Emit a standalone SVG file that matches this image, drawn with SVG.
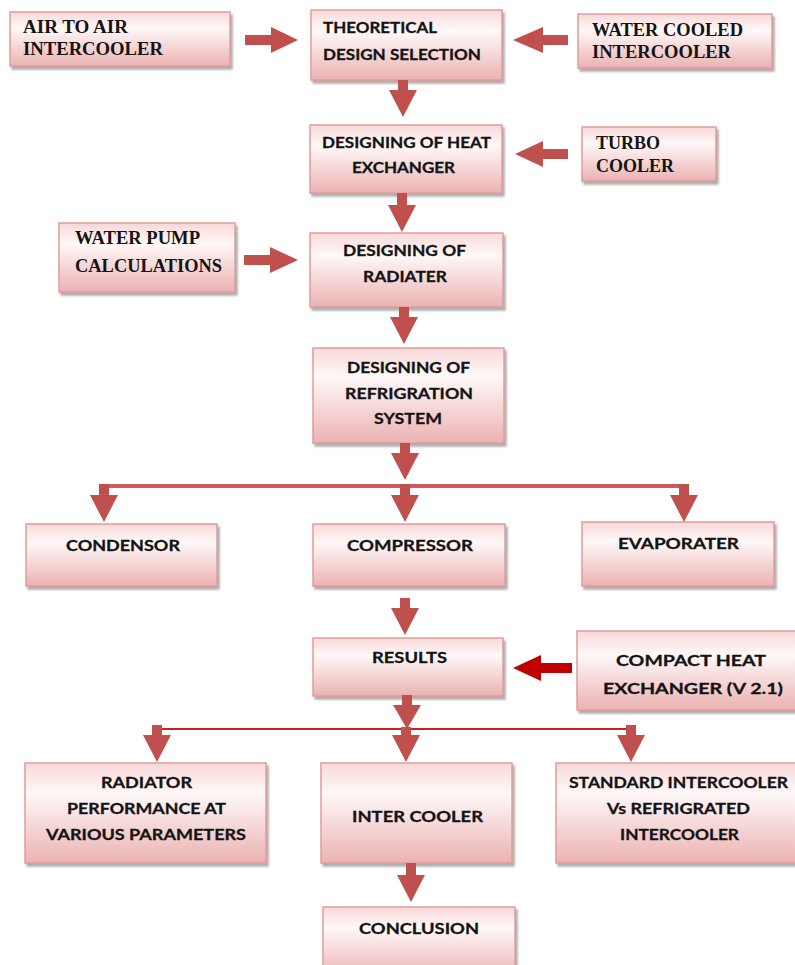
<svg xmlns="http://www.w3.org/2000/svg" width="795" height="965" viewBox="0 0 795 965">
<defs>
<linearGradient id="g" x1="0" y1="0" x2="0" y2="1">
<stop offset="0" stop-color="#F8D8D8"/>
<stop offset="0.3" stop-color="#FFF8F8"/>
<stop offset="1" stop-color="#EBB2B2"/>
</linearGradient>
<filter id="sh" x="-5%" y="-5%" width="115%" height="125%">
<feDropShadow dx="2" dy="3" stdDeviation="1" flood-color="#8a8a8a" flood-opacity="0.7"/>
</filter>
<style>
.b{fill:url(#g);stroke:#E29C9C;stroke-width:1.5;filter:url(#sh)}
.s{font-family:"Liberation Serif","Times New Roman",serif;font-weight:bold;font-size:18px;fill:#141414}
.t{font-family:Lato,"Open Sans",sans-serif;font-weight:bold;font-size:16px;fill:#141414;stroke:#141414;stroke-width:0.3}
.a{fill:#C0504D}
.a2{fill:#C00000}
</style>
</defs>
<rect width="795" height="965" fill="#fff"/>

<g id="air">
<rect class="b" x="10" y="12" width="220" height="54"/>
<text class="s" x="23" y="33" textLength="105" lengthAdjust="spacingAndGlyphs">AIR TO AIR</text>
<text class="s" x="23" y="55" textLength="140" lengthAdjust="spacingAndGlyphs">INTERCOOLER</text>
</g>
<g id="theoretical">
<rect class="b" x="311" y="10" width="191" height="70"/>
<text class="t" x="323" y="33" textLength="114" lengthAdjust="spacingAndGlyphs">THEORETICAL</text>
<text class="t" x="323" y="60" textLength="158" lengthAdjust="spacingAndGlyphs">DESIGN SELECTION</text>
</g>
<g id="water">
<rect class="b" x="578" y="14" width="194" height="54"/>
<text class="s" x="592" y="36" textLength="151" lengthAdjust="spacingAndGlyphs">WATER COOLED</text>
<text class="s" x="592" y="58" textLength="139" lengthAdjust="spacingAndGlyphs">INTERCOOLER</text>
</g>
<g id="heatex">
<rect class="b" x="310" y="125" width="192" height="68"/>
<text class="t" x="322" y="148" textLength="169" lengthAdjust="spacingAndGlyphs">DESIGNING OF HEAT</text>
<text class="t" x="352" y="173" textLength="103" lengthAdjust="spacingAndGlyphs">EXCHANGER</text>
</g>
<g id="turbo">
<rect class="b" x="582" y="127" width="134" height="54"/>
<text class="s" x="596" y="149" textLength="64" lengthAdjust="spacingAndGlyphs">TURBO</text>
<text class="s" x="596" y="172" textLength="78" lengthAdjust="spacingAndGlyphs">COOLER</text>
</g>
<g id="pump">
<rect class="b" x="59" y="223" width="176" height="69"/>
<text class="s" x="75" y="244" textLength="125" lengthAdjust="spacingAndGlyphs">WATER PUMP</text>
<text class="s" x="75" y="272" textLength="147" lengthAdjust="spacingAndGlyphs">CALCULATIONS</text>
</g>
<g id="radiater">
<rect class="b" x="310" y="233" width="193" height="74"/>
<text class="t" x="343" y="256" textLength="123" lengthAdjust="spacingAndGlyphs">DESIGNING OF</text>
<text class="t" x="363" y="282" textLength="84" lengthAdjust="spacingAndGlyphs">RADIATER</text>
</g>
<g id="refrig">
<rect class="b" x="313" y="348" width="191" height="95"/>
<text class="t" x="347" y="373" textLength="123" lengthAdjust="spacingAndGlyphs">DESIGNING OF</text>
<text class="t" x="345" y="399" textLength="128" lengthAdjust="spacingAndGlyphs">REFRIGRATION</text>
<text class="t" x="374" y="424" textLength="68" lengthAdjust="spacingAndGlyphs">SYSTEM</text>
</g>
<g id="condensor">
<rect class="b" x="26" y="524" width="191" height="62"/>
<text class="t" x="66" y="551" textLength="114" lengthAdjust="spacingAndGlyphs">CONDENSOR</text>
</g>
<g id="compressor">
<rect class="b" x="313" y="524" width="192" height="62"/>
<text class="t" x="347" y="551" textLength="126" lengthAdjust="spacingAndGlyphs">COMPRESSOR</text>
</g>
<g id="evaporater">
<rect class="b" x="582" y="522" width="192" height="64"/>
<text class="t" x="618" y="549" textLength="121" lengthAdjust="spacingAndGlyphs">EVAPORATER</text>
</g>
<g id="results">
<rect class="b" x="313" y="638" width="190" height="58"/>
<text class="t" x="372" y="663" textLength="75" lengthAdjust="spacingAndGlyphs">RESULTS</text>
</g>
<g id="compact">
<rect class="b" x="577" y="631" width="222" height="79"/>
<text class="t" x="616" y="666" textLength="150" lengthAdjust="spacingAndGlyphs">COMPACT HEAT</text>
<text class="t" x="603" y="694" textLength="180" lengthAdjust="spacingAndGlyphs">EXCHANGER (V 2.1)</text>
</g>
<g id="radiator">
<rect class="b" x="25" y="763" width="241" height="100"/>
<text class="t" x="101" y="788" textLength="91" lengthAdjust="spacingAndGlyphs">RADIATOR</text>
<text class="t" x="67" y="814" textLength="159" lengthAdjust="spacingAndGlyphs">PERFORMANCE AT</text>
<text class="t" x="46" y="840" textLength="200" lengthAdjust="spacingAndGlyphs">VARIOUS PARAMETERS</text>
</g>
<g id="intercooler">
<rect class="b" x="321" y="763" width="191" height="100"/>
<text class="t" x="352" y="822" textLength="131" lengthAdjust="spacingAndGlyphs">INTER COOLER</text>
</g>
<g id="standard">
<rect class="b" x="556" y="763" width="244" height="100"/>
<text class="t" x="569" y="788" textLength="219" lengthAdjust="spacingAndGlyphs">STANDARD INTERCOOLER</text>
<text class="t" x="607" y="814" textLength="143" lengthAdjust="spacingAndGlyphs">Vs REFRIGRATED</text>
<text class="t" x="620" y="840" textLength="119" lengthAdjust="spacingAndGlyphs">INTERCOOLER</text>
</g>
<g id="conclusion">
<rect class="b" x="323" y="907" width="192" height="70"/>
<text class="t" x="359" y="934" textLength="120" lengthAdjust="spacingAndGlyphs">CONCLUSION</text>
</g>

<g id="connectors">
<polygon class="a" points="245,35 271,35 271,27 298,40 271,53 271,45 245,45"/>
<polygon class="a" points="568,35 543,35 543,27 513,40 543,53 543,45 568,45"/>
<polygon class="a" points="568,149 543,149 543,141 515,154 543,167 543,159 568,159"/>
<polygon class="a" points="244,255 270,255 270,247 298,260 270,273 270,265 244,265"/>
<polygon class="a2" points="572,663 541,663 541,655 513,668 541,681 541,673 572,673"/>
<polygon class="a" points="398,80 408,80 408,90 417,90 403,117 389,90 398,90"/>
<polygon class="a" points="397,193 407,193 407,205 416,205 402,232 388,205 397,205"/>
<polygon class="a" points="399,307 409,307 409,317 418,317 404,344 390,317 399,317"/>
<polygon class="a" points="400,443 410,443 410,453 419,453 405,480 391,453 400,453"/>
<line x1="104" y1="486" x2="685" y2="486" stroke="#D05A57" stroke-width="4"/>
<polygon class="a" points="99,484 109,484 109,495 118,495 104,522 90,495 99,495"/>
<polygon class="a" points="400,484 410,484 410,495 419,495 405,522 391,495 400,495"/>
<polygon class="a" points="679,484 689,484 689,495 698,495 684,522 670,495 679,495"/>
<polygon class="a" points="400,598 410,598 410,608 419,608 405,635 391,608 400,608"/>
<polygon class="a" points="402,695 412,695 412,705 421,705 407,729 393,705 402,705"/>
<line x1="157" y1="729" x2="631" y2="729" stroke="#CC1F1F" stroke-width="2"/>
<polygon class="a" points="152,725 162,725 162,735 171,735 157,762 143,735 152,735"/>
<polygon class="a" points="401,727 411,727 411,735 420,735 406,762 392,735 401,735"/>
<polygon class="a" points="626,725 636,725 636,735 645,735 631,762 617,735 626,735"/>
<polygon class="a" points="406,863 416,863 416,875 425,875 411,902 397,875 406,875"/>
</g>
</svg>
